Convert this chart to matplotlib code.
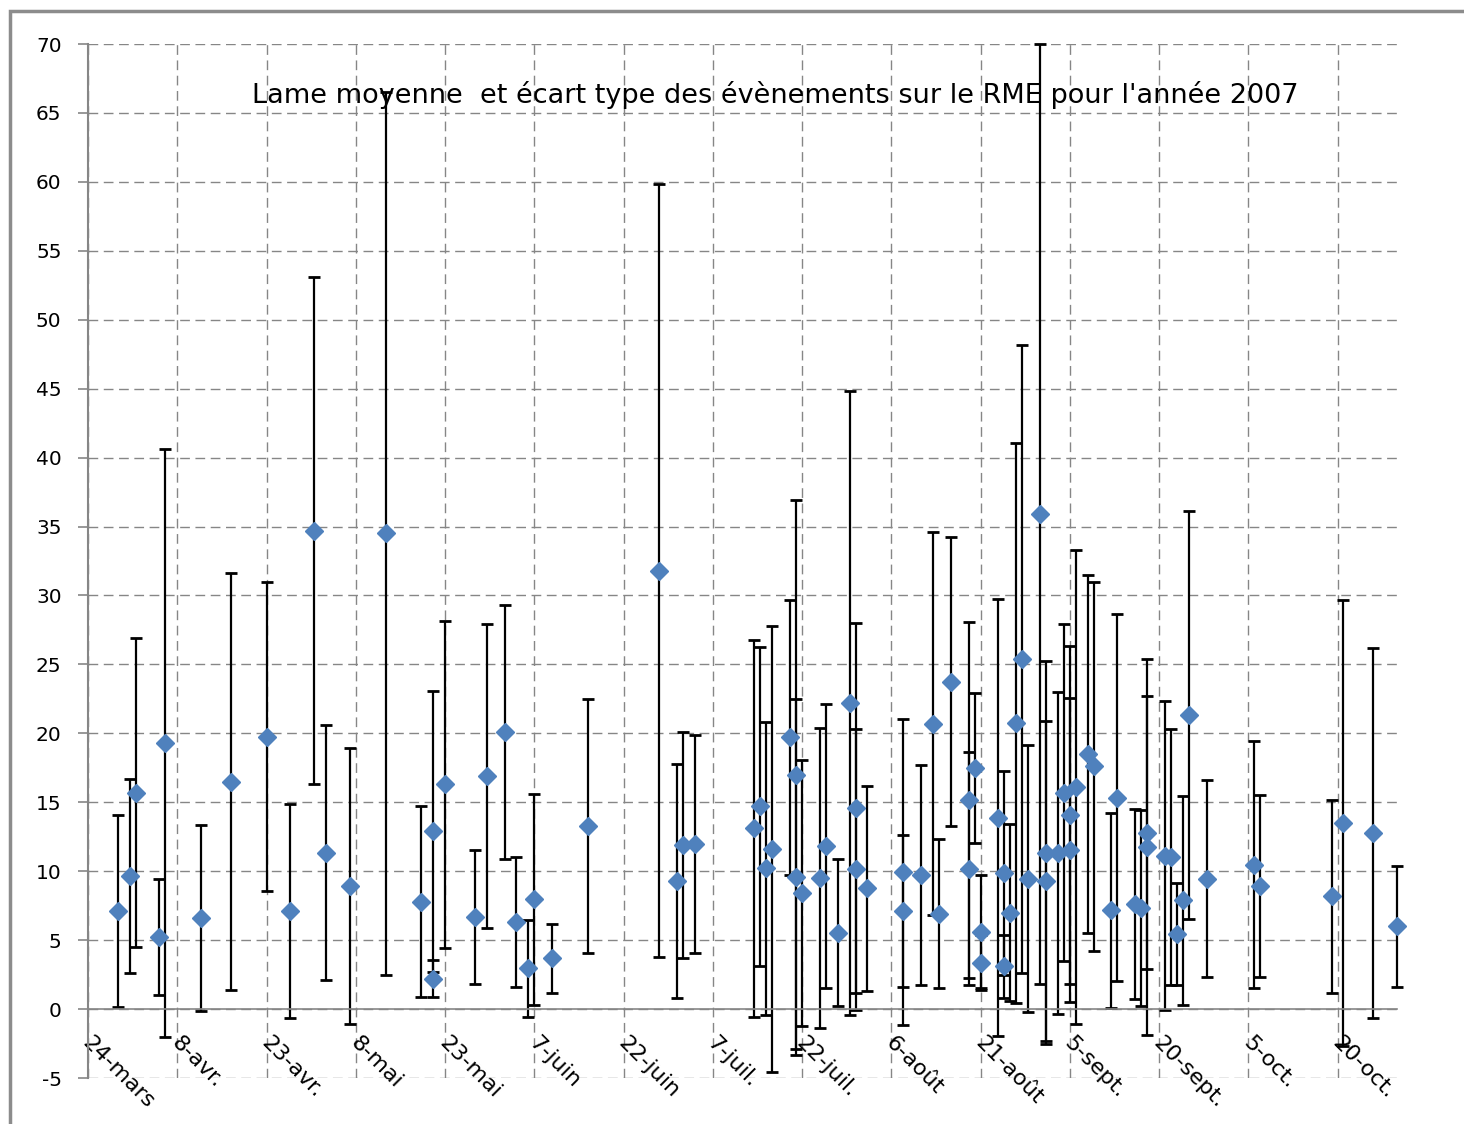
import numpy as np
import pandas as pd
import matplotlib
matplotlib.use('Agg')
import matplotlib.pyplot as plt
import matplotlib.dates as mdates
import matplotlib.transforms as mtransforms
from matplotlib.patches import Rectangle

plt.rcParams['axes.unicode_minus'] = False

# Event dates (2007), mean depth and standard deviation
dates = ['2007-03-29', '2007-03-31', '2007-04-01', '2007-04-05', '2007-04-06', '2007-04-12',
         '2007-04-17', '2007-04-23', '2007-04-27', '2007-05-01', '2007-05-03', '2007-05-07',
         '2007-05-13', '2007-05-19', '2007-05-21', '2007-05-21', '2007-05-23', '2007-05-28',
         '2007-05-30', '2007-06-02', '2007-06-04', '2007-06-06', '2007-06-07', '2007-06-10',
         '2007-06-16', '2007-06-28', '2007-07-01', '2007-07-02', '2007-07-04', '2007-07-14',
         '2007-07-15', '2007-07-16', '2007-07-17', '2007-07-20', '2007-07-21', '2007-07-21',
         '2007-07-22', '2007-07-25', '2007-07-26', '2007-07-28', '2007-07-30', '2007-07-31',
         '2007-07-31', '2007-08-02', '2007-08-08', '2007-08-08', '2007-08-11', '2007-08-13',
         '2007-08-14', '2007-08-16', '2007-08-19', '2007-08-19', '2007-08-20', '2007-08-21',
         '2007-08-21', '2007-08-24', '2007-08-25', '2007-08-25', '2007-08-26', '2007-08-27',
         '2007-08-28', '2007-08-29', '2007-08-31', '2007-09-01', '2007-09-01', '2007-09-03',
         '2007-09-04', '2007-09-05', '2007-09-05', '2007-09-06', '2007-09-08', '2007-09-09',
         '2007-09-12', '2007-09-13', '2007-09-16', '2007-09-17', '2007-09-18', '2007-09-18',
         '2007-09-21', '2007-09-22', '2007-09-23', '2007-09-24', '2007-09-25', '2007-09-28',
         '2007-10-06', '2007-10-07', '2007-10-19', '2007-10-21', '2007-10-26', '2007-10-30']

means = [7.1, 9.65, 15.7, 5.25, 19.3, 6.6,
         16.5, 19.75, 7.1, 34.7, 11.35, 8.9,
         34.5, 7.8, 2.2, 12.9, 16.3, 6.7,
         16.9, 20.1, 6.3, 2.95, 7.95, 3.67,
         13.27, 31.8, 9.3, 11.9, 12.0, 13.1,
         14.7, 10.2, 11.6, 19.7, 17.0, 9.6,
         8.4, 9.5, 11.85, 5.55, 22.2, 14.6,
         10.15, 8.75, 9.97, 7.13, 9.72, 20.7,
         6.9, 23.75, 15.15, 10.18, 17.5, 5.6,
         3.36, 13.87, 9.88, 3.1, 7.0, 20.75,
         25.4, 9.47, 35.9, 9.29, 11.35, 11.33,
         15.7, 14.08, 11.53, 16.1, 18.5, 17.6,
         7.18, 15.33, 7.64, 7.31, 12.78, 11.76,
         11.13, 11.02, 5.47, 7.89, 21.33, 9.47,
         10.47, 8.95, 8.17, 13.49, 12.77, 6.0]

stds = [6.95, 7.05, 11.2, 4.2, 21.3, 6.75,
        15.1, 11.2, 7.75, 18.4, 9.25, 10.0,
        32.0, 6.9, 1.35, 10.2, 11.85, 4.85,
        11.05, 9.2, 4.7, 3.5, 7.65, 2.5,
        9.2, 28.05, 8.5, 8.2, 7.9, 13.7,
        11.55, 10.6, 16.2, 10.0, 19.9, 12.9,
        9.65, 10.9, 10.3, 5.3, 22.6, 13.4,
        10.2, 7.45, 11.1, 5.5, 8.0, 13.9,
        5.4, 10.5, 12.9, 8.46, 5.45, 4.1,
        2.0, 15.85, 7.4, 2.3, 6.4, 20.3,
        22.8, 9.7, 34.1, 11.6, 13.9, 11.7,
        12.2, 12.27, 11.0, 17.2, 13.0, 13.4,
        7.07, 13.3, 6.9, 7.1, 9.9, 13.65,
        11.2, 9.3, 3.7, 7.6, 14.8, 7.15,
        8.95, 6.6, 7.0, 16.2, 13.4, 4.4]

tick_dates = pd.date_range('2007-03-24', periods=15, freq='15D')
tick_labels = ['24-mars', '8-avr.', '23-avr.', '8-mai', '23-mai', '7-juin', '22-juin',
               '7-juil.', '22-juil.', '6-août', '21-août', '5-sept.', '20-sept.',
               '5-oct.', '20-oct.']
y_ticks = list(range(-5, 75, 5))

title = "Lame moyenne  et écart type des évènements sur le RME pour l'année 2007"

# plain matplotlib date numbers
x = mdates.date2num(pd.to_datetime(dates).to_pydatetime())
xt = mdates.date2num(tick_dates.to_pydatetime())
x_min = mdates.date2num(pd.Timestamp('2007-03-24').to_pydatetime())
x_max = mdates.date2num(pd.Timestamp('2007-10-30').to_pydatetime())
grid_c = '#868686'

fig = plt.figure(figsize=(14.64, 11.24), dpi=100)
ax = fig.add_axes([88 / 1464, 46 / 1124, 1309 / 1464, 1034 / 1124])

# spines first: moving a spine resets the ticks
for s in ['top', 'right']:
    ax.spines[s].set_visible(False)
ax.spines['bottom'].set_position(('data', 0))
ax.spines['bottom'].set_color(grid_c)
ax.spines['bottom'].set_linewidth(1.2)
ax.spines['left'].set_color(grid_c)
ax.spines['left'].set_linewidth(1.5)

eb = ax.errorbar(x, means, yerr=stds, fmt='none', ecolor='black', elinewidth=1.6,
                 capsize=4.5, capthick=2.0, zorder=2)
for art in eb.lines[1] + eb.lines[2]:
    art.set_clip_on(False)
ax.plot(x, means, 'D', color='#4F81BD', ms=9, mec='#4F81BD', zorder=3, clip_on=False)

ax.set_xlim(x_min, x_max)
ax.set_ylim(-5, 70)
ax.set_yticks(y_ticks)
ax.set_xticks(xt)
ax.set_xticklabels(tick_labels)
ax.tick_params(axis='x', length=0, pad=17, labelsize=16, labelrotation=-45)
shift = mtransforms.ScaledTranslation(5 / 100, 0, fig.dpi_scale_trans)
for lab in ax.get_xticklabels():
    lab.set_ha('left')
    lab.set_va('top')
    lab.set_rotation_mode('anchor')
    lab.set_transform(lab.get_transform() + shift)
ax.tick_params(axis='y', labelsize=14.5, length=7, color=grid_c, width=1.2, pad=12)

ax.grid(True, color=grid_c, linestyle=(0, (7, 4)), linewidth=1.0)
ax.set_axisbelow(True)

ax.text(0.525, 0.9507, title, transform=ax.transAxes, ha='center', va='center',
        fontsize=19.5)

# outer chart frame (top and left edges visible)
fig.patches.append(Rectangle((10 / 1464, -0.1), 2, (1124 - 11) / 1124 + 0.1,
                             transform=fig.transFigure, fill=False,
                             ec='#8c8c8c', lw=2.5))

fig.savefig('out.png', dpi=100)
